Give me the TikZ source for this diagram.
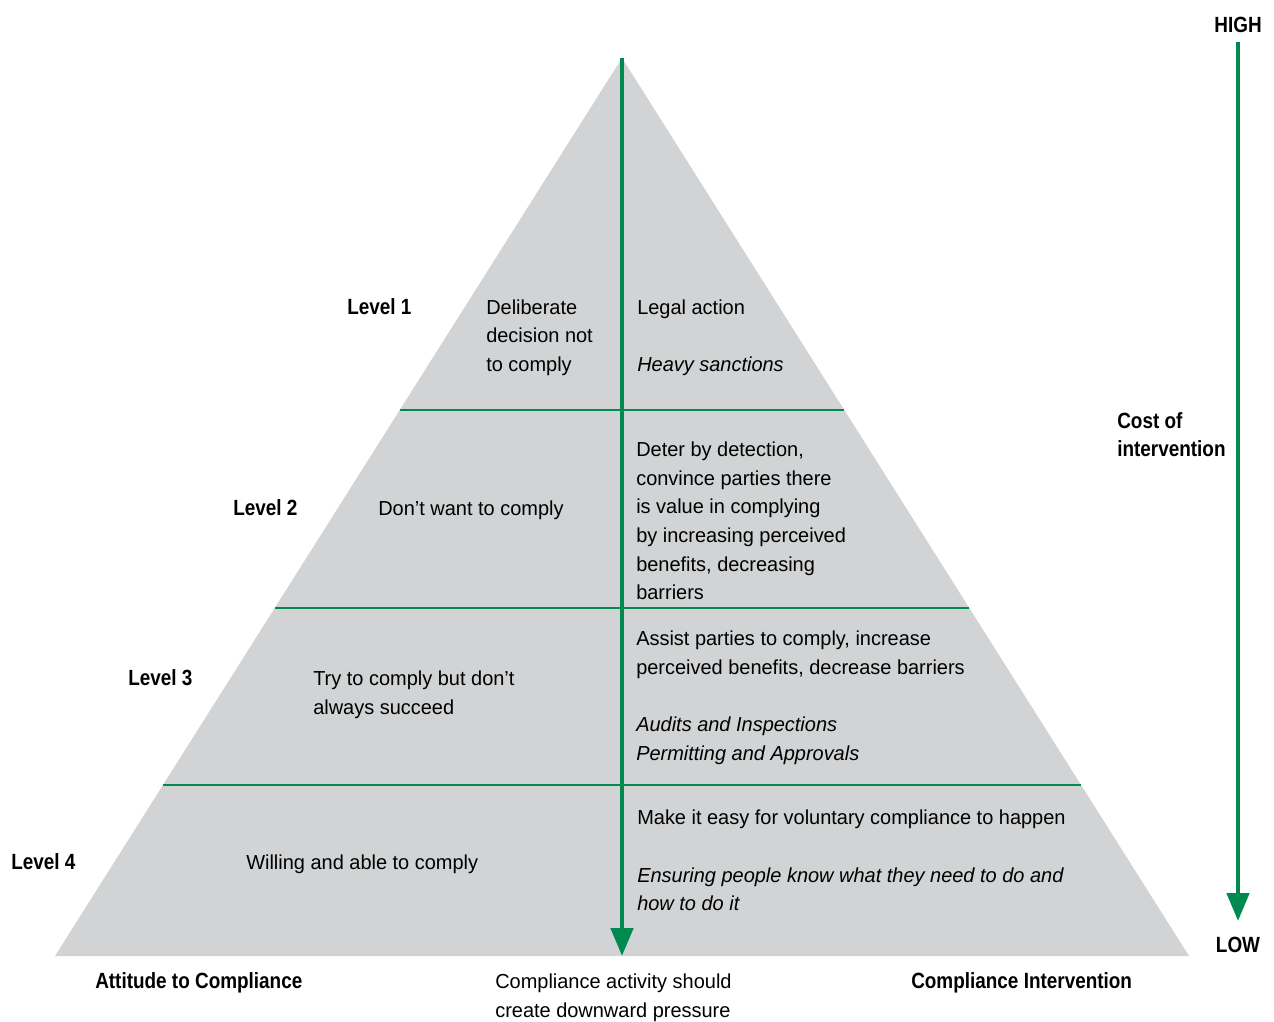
\documentclass[tikz,border=0pt]{standalone}
\usepackage{fontspec}
\setmainfont{Liberation Sans}
\newfontfamily\bodyfont[FakeStretch=0.985]{Liberation Sans}
\newfontfamily\headfont[FakeStretch=0.86]{Liberation Sans}
\usetikzlibrary{calc,arrows.meta}
\definecolor{pyrgrey}{RGB}{209,211,212}
\definecolor{pyrgreen}{RGB}{0,138,80}
\tikzset{
  body/.style={font=\bodyfont\fontsize{15.2}{21.5}\selectfont, align=left, anchor=west, inner sep=0pt, yshift=-1.5pt},
  head/.style={font=\headfont\bfseries\fontsize{16.5}{21.5}\selectfont, align=left, anchor=west, inner sep=0pt},
  levelline/.style={pyrgreen, line width=1.1pt},
  pressure/.style={pyrgreen, line width=3.6pt, -{Triangle[width=16.5pt,length=21pt]}},
}

\begin{document}
\begin{tikzpicture}[x=0.75pt,y=-0.75pt]
  %%%%% START %%%%%
  \useasboundingbox (0,0) rectangle (1274,1021);

  \coordinate (apex) at (622,58);
  \coordinate (baseL) at (55,956);
  \coordinate (baseR) at (1189,956);
  \coordinate (baseM) at (622,956);

  \fill[pyrgrey] (apex) -- (baseR) -- (baseL) -- cycle;

  \foreach \t in {0.392,0.6125,0.8096}
    \draw[levelline] ($(apex)!\t!(baseL)$) -- ($(apex)!\t!(baseR)$);

  \draw[pressure] (apex) -- (baseM);

  % cost scale
  \coordinate (high) at (1238,42);
  \coordinate (low) at (1238,921);
  \draw[pressure] (high) -- (low);
  \node[head, anchor=center] (hightxt) at (1238,25) {HIGH};
  \node[head, anchor=center] (lowtxt) at (1238,945) {LOW};
  \node[head] (cost) at (1117,434.5) {Cost of\\intervention};

  % level 1
  \node[head] (lvl1) at (347,307) {Level 1};
  \node[body] (att1) at (486,335.5) {Deliberate\\decision not\\to comply};
  \node[body] (int1) at (637,335.5) {Legal action\\[21.5pt]\itshape Heavy sanctions};

  % level 2
  \node[head] (lvl2) at (233,508) {Level 2};
  \node[body] (att2) at (378,508) {Don’t want to comply};
  \node[body] (int2) at (636,519) {Deter by detection,\\convince parties there\\is value in complying\\by increasing perceived\\benefits, decreasing\\barriers};

  % level 3
  \node[head] (lvl3) at (128,678) {Level 3};
  \node[body] (att3) at (313,692.5) {Try to comply but don’t\\always succeed};
  \node[body] (int3) at (636,695.5) {Assist parties to comply, increase\\perceived benefits, decrease barriers\\[21.5pt]\itshape Audits and Inspections\\\itshape Permitting and Approvals};

  % level 4
  \node[head] (lvl4) at (11,862) {Level 4};
  \node[body] (att4) at (246,862) {Willing and able to comply};
  \node[body] (int4) at (637,858.5) {Make it easy for voluntary compliance to happen\\[21.5pt]\itshape Ensuring people know what they need to do and\\\itshape how to do it};

  % bottom captions
  \node[head] (attcap) at (95,983) {Attitude to Compliance};
  \node[body] (midcap) at (495,996) {Compliance activity should\\create downward pressure};
  \node[head] (intcap) at (911,983) {Compliance Intervention};
  %%%%% END %%%%%
\end{tikzpicture}
\end{document}
